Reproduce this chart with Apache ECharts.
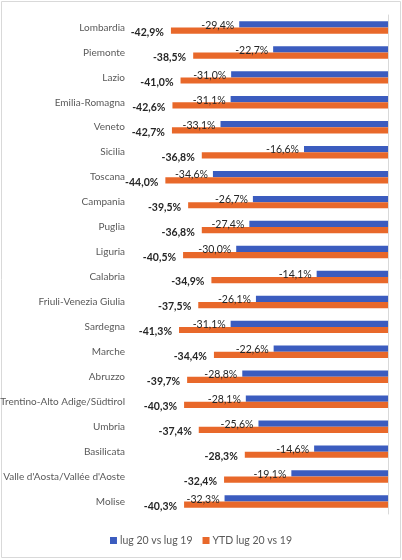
<!DOCTYPE html>
<html>
<head>
<meta charset="utf-8">
<script src="https://cdn.jsdelivr.net/npm/echarts@6/dist/echarts.min.js"></script>
<style>
  html, body { margin: 0; padding: 0; background: #fff; }
  #chart { width: 402px; height: 560px; }
</style>
</head>
<body>
<div id="chart"></div>
<script>
// regioni (dall'alto verso il basso)
const regions = [
  'Lombardia', 'Piemonte', 'Lazio', 'Emilia-Romagna', 'Veneto', 'Sicilia',
  'Toscana', 'Campania', 'Puglia', 'Liguria', 'Calabria', 'Friuli-Venezia Giulia',
  'Sardegna', 'Marche', 'Abruzzo', 'Trentino-Alto Adige/Südtirol', 'Umbria',
  'Basilicata', "Valle d'Aosta/Vallée d'Aoste", 'Molise'
];
// lug 20 vs lug 19
const lugValues = [
  -29.4, -22.7, -31.0, -31.1, -33.1, -16.6, -34.6, -26.7, -27.4, -30.0,
  -14.1, -26.1, -31.1, -22.6, -28.8, -28.1, -25.6, -14.6, -19.1, -32.3
];
// YTD lug 20 vs 19
const ytdValues = [
  -42.9, -38.5, -41.0, -42.6, -42.7, -36.8, -44.0, -39.5, -36.8, -40.5,
  -34.9, -37.5, -41.3, -34.4, -39.7, -40.3, -37.4, -28.3, -32.4, -40.3
];
const seriesNames = ['lug 20 vs lug 19', 'YTD lug 20 vs 19'];

const FONT = 'Lato, "Open Sans", sans-serif';
const fmt = p => p.value.toFixed(1).replace('.', ',') + '%';

const myChart = echarts.init(document.getElementById('chart'));

myChart.setOption({
  animation: false,
  textStyle: { fontFamily: FONT },
  // cornice grigia attorno al grafico
  graphic: [{
    type: 'rect',
    shape: { x: 1.5, y: 1.5, width: 399, height: 556 },
    style: { fill: 'none', stroke: '#d9d9d9', lineWidth: 1 },
    silent: true
  }],
  grid: { left: 135, right: 14, top: 15, bottom: 46, outerBoundsMode: 'none', containLabel: false },
  legend: {
    data: seriesNames,
    top: 530,
    left: 'center',
    itemWidth: 7,
    itemHeight: 7,
    itemGap: 10,
    icon: 'rect',
    textStyle: { color: '#595959', fontSize: 10.5, fontFamily: FONT, padding: [0, 0, 0, -2] }
  },
  xAxis: {
    type: 'value',
    min: -50,
    max: 0,
    show: false
  },
  yAxis: [
    {
      // linea dell'asse a destra (zero)
      type: 'category',
      data: regions,
      inverse: true,
      position: 'right',
      axisLine: { show: true, lineStyle: { color: '#d9d9d9' } },
      axisTick: { show: false },
      axisLabel: { show: false }
    },
    {
      // etichette delle regioni a sinistra
      type: 'category',
      data: regions,
      inverse: true,
      position: 'left',
      axisLine: { show: false },
      axisTick: { show: false },
      axisLabel: { color: '#595959', fontSize: 10, margin: 10, fontFamily: FONT }
    }
  ],
  series: [
    {
      name: seriesNames[0],
      type: 'bar',
      data: lugValues,
      yAxisIndex: 0,
      barGap: '0%',
      barCategoryGap: '50%',
      itemStyle: { color: '#3b5cbf' },
      label: {
        show: true,
        position: 'left',
        distance: 5,
        offset: [0, 1],
        formatter: fmt,
        color: '#262626',
        fontSize: 10.5,
        fontFamily: FONT
      }
    },
    {
      name: seriesNames[1],
      type: 'bar',
      data: ytdValues,
      yAxisIndex: 0,
      itemStyle: { color: '#e8682a' },
      label: {
        show: true,
        position: 'left',
        distance: 7,
        offset: [0, 2],
        formatter: fmt,
        color: '#262626',
        fontSize: 10.5,
        fontWeight: 'bold',
        fontFamily: FONT
      }
    }
  ]
});
</script>
</body>
</html>
